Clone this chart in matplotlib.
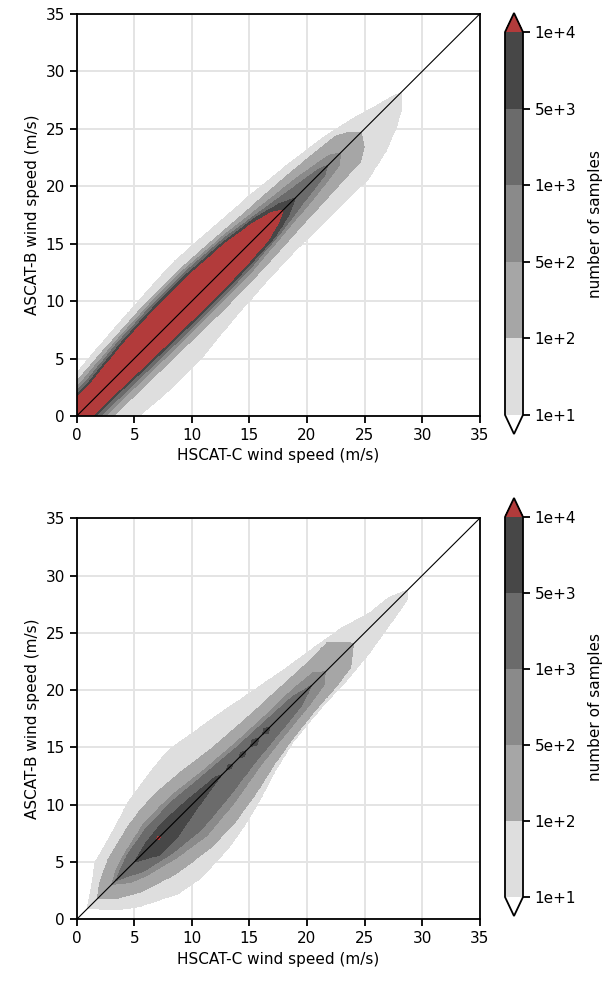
import numpy as np
import matplotlib
matplotlib.use("Agg")
import matplotlib.pyplot as plt

# ---------------- data ----------------
levels = [10, 100, 500, 1000, 5000, 10000]
level_labels = ["1e+1", "1e+2", "5e+2", "1e+3", "5e+3", "1e+4"]
band_colors = ["#dedede", "#a6a6a6", "#8a8a8a", "#6b6b6b", "#474747"]
under_color = "white"
over_color = "#b23b3b"
# representative sample count inside each contour band (1e1..1e2, ..., >1e4)
band_counts = [30, 200, 700, 2000, 7000, 20000]

axis_ticks = [0, 5, 10, 15, 20, 25, 30, 35]
xlabel = "HSCAT-C wind speed (m/s)"
ylabel = "ASCAT-B wind speed (m/s)"
cbar_label = "number of samples"

# Contour outlines per level: (s, d_upper, d_lower) where
# s = (x + y) / 2 is the position along the 1:1 line and d = y - x the offset.
top_1e1 = [(-3, 3.5, -5.0), (2, 3.8, -5.3), (5, 4.3, -5.8), (8, 4.7, -5.8), (11, 5.0, -5.2),
           (14, 4.6, -4.8), (17, 4.2, -4.6), (20, 3.6, -4.6), (23, 2.8, -4.7), (25, 1.9, -3.8),
           (26.5, 1.0, -2.6), (27.5, 0.5, -1.5), (28.2, 0.0, 0.0)]
top_1e2 = [(-3, 2.9, -3.2), (2, 3.1, -3.2), (5, 3.5, -3.3), (8, 3.8, -3.4), (11, 3.8, -3.5),
           (14, 3.4, -3.4), (17, 3.0, -3.1), (20, 2.6, -2.8), (23.4, 1.9, -2.5), (24.2, 1.0, -1.5),
           (24.7, 0.0, 0.0)]
top_5e2 = [(-3, 2.4, -2.4), (2, 2.6, -2.5), (5, 3.1, -2.6), (8, 3.4, -2.7), (11, 3.4, -2.7),
           (14, 3.0, -2.6), (17, 2.3, -2.1), (20, 1.6, -1.6), (22.3, 0.8, -1.0), (22.9, 0.0, 0.0)]
top_1e3 = [(-3, 2.0, -2.0), (2, 2.2, -2.1), (5, 2.8, -2.2), (8, 3.1, -2.3), (11, 3.1, -2.3),
           (14, 2.7, -2.2), (17, 1.8, -1.7), (19.5, 1.0, -1.0), (21.2, 0.5, -0.6), (21.8, 0.0, 0.0)]
top_5e3 = [(-3, 1.8, -1.6), (2, 1.9, -1.6), (5, 2.5, -1.8), (8, 2.8, -1.9), (11, 2.8, -2.0),
           (14, 2.4, -1.9), (16.5, 1.7, -1.6), (18, 0.9, -0.9), (19.0, 0.0, 0.0)]
top_1e4 = [(-3, 1.5, -1.3), (2, 1.6, -1.35), (5, 2.2, -1.5), (8, 2.5, -1.6), (11, 2.5, -1.7),
           (14, 2.1, -1.6), (16, 1.5, -1.3), (17.3, 0.8, -0.6), (17.9, 0.0, 0.0)]

bot_1e1 = [(0.9, 0.0, 0.0), (2.2, 1.8, -2.8), (3.3, 3.4, -4.4), (5.5, 4.6, -6.6), (7.2, 5.7, -7.2),
           (9.7, 6.5, -7.0), (11.4, 6.8, -6.4), (13.2, 6.2, -5.5), (15.1, 5.6, -4.3), (17.2, 4.8, -3.3),
           (19.9, 3.8, -2.8), (22.2, 3.1, -2.6), (24.3, 2.4, -2.2), (26.1, 1.3, -1.6), (27.6, 1.0, -1.1),
           (28.3, 0.4, -0.8), (28.7, 0.0, 0.0)]
bot_1e2 = [(1.8, 0.0, 0.0), (2.6, 1.2, -1.6), (4.0, 2.5, -3.2), (6.2, 3.6, -4.6), (7.5, 4.0, -5.0),
           (9.0, 4.1, -5.4), (11.0, 3.8, -5.3), (13.2, 3.2, -4.6), (15.4, 2.9, -3.6), (17.2, 2.7, -3.0),
           (19.3, 2.5, -2.5), (21.5, 2.3, -2.2), (22.9, 2.4, -1.8), (23.95, 0.3, -0.1), (24.05, 0.0, 0.0)]
bot_5e2 = [(3.0, 0.0, 0.0), (4.0, 1.0, -1.5), (5.0, 1.6, -2.3), (7.0, 2.5, -3.3), (9.3, 2.6, -4.0),
           (12.0, 2.0, -3.5), (14.5, 1.6, -2.6), (17.0, 1.4, -2.0), (19.5, 1.3, -1.5), (21.0, 1.0, -1.0),
           (21.6, 0.0, 0.0)]
bot_1e3 = [(3.4, 0.0, 0.0), (5.0, 1.2, -1.6), (7.0, 1.9, -2.5), (9.3, 2.0, -3.0), (12.0, 1.5, -2.5),
           (14.5, 1.1, -1.8), (17.0, 0.9, -1.3), (19.0, 0.7, -0.9), (20.4, 0.0, 0.0)]
bot_5e3 = [(5.0, 0.0, 0.0), (6.4, 0.7, -1.6), (7.9, 1.0, -1.6), (10.0, 0.8, -0.8), (12.2, 0.4, -0.1),
           (12.6, 0.0, 0.0), (13.0, 0.0, 0.0), (13.3, 0.3, -0.3), (13.55, 0.0, 0.0),
           (14.1, 0.0, 0.0), (14.4, 0.35, -0.35), (14.7, 0.0, 0.0),
           (15.1, 0.0, 0.0), (15.45, 0.45, -0.45), (15.8, 0.0, 0.0),
           (16.15, 0.0, 0.0), (16.45, 0.4, -0.4), (16.75, 0.0, 0.0)]
bot_1e4 = [(6.95, 0.0, 0.0), (7.1, 0.15, -0.15), (7.25, 0.0, 0.0)]

top_profiles = [top_1e1, top_1e2, top_5e2, top_1e3, top_5e3, top_1e4]
bot_profiles = [bot_1e1, bot_1e2, bot_5e2, bot_1e3, bot_5e3, bot_1e4]


def build_field(profiles, grid):
    X, Y = np.meshgrid(grid, grid)
    S = (X + Y) / 2.0
    D = Y - X
    Z = np.full(X.shape, np.nan)
    for prof, val in zip(profiles, band_counts):
        arr = np.asarray(prof, dtype=float)
        s, up, lo = arr[:, 0], arr[:, 1], arr[:, 2]
        inside = ((S >= s[0]) & (S <= s[-1])
                  & (D < np.interp(S, s, up)) & (D > np.interp(S, s, lo)))
        Z[inside] = val
    return X, Y, Z


W, H = 609, 982
fig = plt.figure(figsize=(W / 100, H / 100), dpi=100)

ax_rects = [[76.7 / W, 1 - 416 / H, 403 / W, 402 / H],
            [76.7 / W, 1 - 919.3 / H, 403 / W, 401 / H]]
cax_rects = [[505 / W, 1 - 434 / H, 18 / W, 421 / H],
             [505 / W, 1 - 916 / H, 18 / W, 418 / H]]

grid = np.arange(-0.5, 35.5, 0.04)
lims = [axis_ticks[0], axis_ticks[-1]]
fill_colors = [under_color] + band_colors + [over_color]

for profiles, rect, crect in zip([top_profiles, bot_profiles], ax_rects, cax_rects):
    ax = fig.add_axes(rect)
    cax = fig.add_axes(crect)
    X, Y, Z = build_field(profiles, grid)
    ax.set_axisbelow(True)
    ax.grid(True, color="#e4e4e4", linewidth=1.4)
    cs = ax.contourf(X, Y, Z, levels=levels, colors=fill_colors, extend="both", zorder=1)
    ax.plot(lims, lims, color="black", linewidth=0.8, zorder=3)
    ax.set_xlim(lims)
    ax.set_ylim(lims)
    ax.set_xticks(axis_ticks)
    ax.set_yticks(axis_ticks)
    ax.tick_params(direction="out", length=5, width=1.3, labelsize=11)
    for sp in ax.spines.values():
        sp.set_linewidth(1.3)
    ax.set_xlabel(xlabel, fontsize=11)
    ax.set_ylabel(ylabel, fontsize=11)

    cb = fig.colorbar(cs, cax=cax, ticks=levels)
    cb.set_ticklabels(level_labels)
    cb.ax.tick_params(length=5, width=1.3, labelsize=11)
    cb.outline.set_linewidth(1.3)
    cb.set_label(cbar_label, fontsize=11, labelpad=8)

fig.savefig("out.png", dpi=100)
